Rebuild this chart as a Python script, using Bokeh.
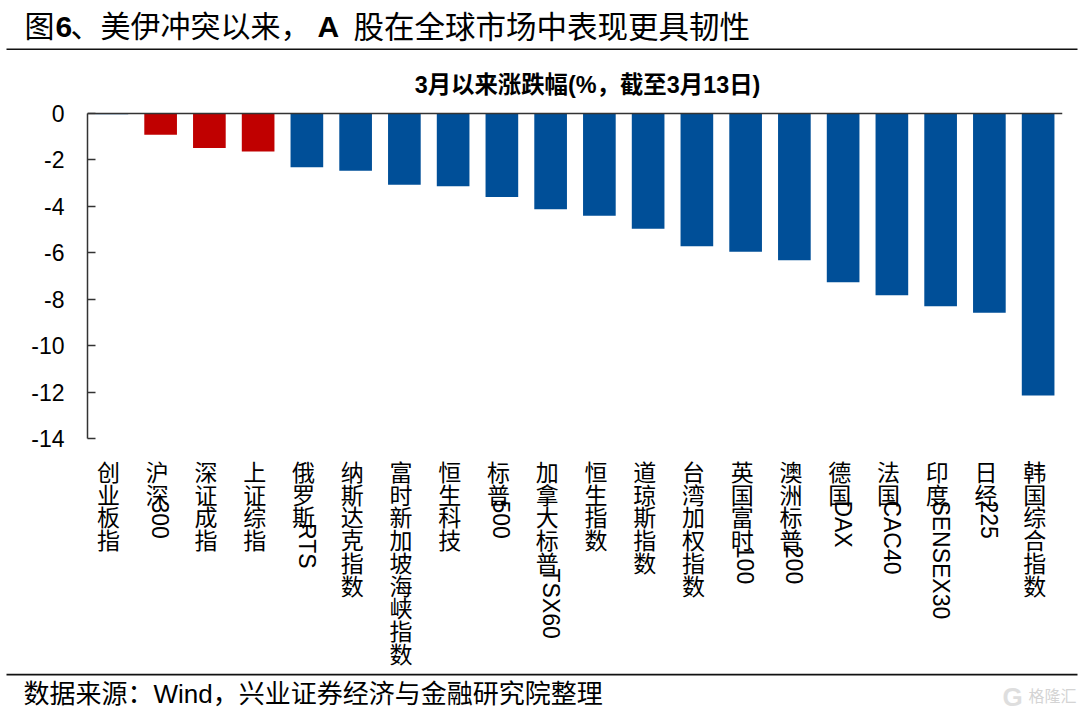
import math
from bokeh.plotting import figure
from bokeh.layouts import column
from bokeh.embed import file_html
from bokeh.resources import INLINE
from bokeh.core.properties import value
from bokeh.models import FixedTicker, Range1d, ColumnDataSource, Span

categories = ["创业板指", "沪深300", "深证成指", "上证综指", "俄罗斯RTS", "纳斯达克指数", "富时新加坡海峡指数",
              "恒生科技", "标普500", "加拿大标普TSX60", "恒生指数", "道琼斯指数", "台湾加权指数", "英国富时100",
              "澳洲标普200", "德国DAX", "法国CAC40", "印度SENSEX30", "日经225", "韩国综合指数"]
values = [-0.03, -0.91, -1.49, -1.64, -2.32, -2.47, -3.07, -3.13, -3.6, -4.12, -4.4, -4.96, -5.72, -5.95, -6.32,
          -7.27, -7.83, -8.3, -8.58, -12.15]
colors = ["#004F98"] + ["#C00000"] * 3 + ["#004F98"] * 16
y_ticks = [0, -2, -4, -6, -8, -10, -12, -14]
y_tick_labels = ["0", "-2", "-4", "-6", "-8", "-10", "-12", "-14"]

FONT = "Liberation Sans, Noto Sans CJK SC"
W = 1080
TITLE_H, CHART_H, FOOT_H = 50, 623, 42
FRAME_L, FRAME_R = 87, 1062
ZERO_Y = 113 - TITLE_H
PX_PER_UNIT = 325 / 14


def band(height):
    f = figure(width=W, height=height, output_backend="svg", toolbar_location=None,
               x_range=Range1d(0, W), y_range=Range1d(height, 0), x_axis_type=None, y_axis_type=None,
               min_border=0, min_border_left=0, min_border_right=0, min_border_top=0, min_border_bottom=0)
    f.outline_line_color = None
    f.grid.visible = False
    return f


def put(f, x, y, text, size, bold=False, color="#000000", align="left"):
    f.text([x], [y], text=[text], text_font=value(FONT), text_font_size=f"{size}px",
           text_font_style="bold" if bold else "normal", text_color=color, text_align=align,
           text_baseline="middle")


# title band
top = band(TITLE_H)
put(top, 24, 26, "图", 30)
put(top, 55, 26, "6", 30, bold=True)
put(top, 70, 26, "、美伊冲突以来，", 30)
put(top, 317, 26, "A", 30, bold=True)
put(top, 353, 26, "股在全球市场中表现更具韧性", 30.5)
top.quad(left=[6], right=[1077], top=[48], bottom=[50], fill_color="#111111", line_color=None)

# chart band
p = figure(width=W, height=CHART_H, output_backend="svg", toolbar_location=None,
           x_range=Range1d(-0.5, len(categories) - 0.5),
           y_range=Range1d(-(CHART_H - ZERO_Y) / PX_PER_UNIT, ZERO_Y / PX_PER_UNIT),
           x_axis_type=None, min_border=0, min_border_left=FRAME_L, min_border_right=W - FRAME_R,
           min_border_top=0, min_border_bottom=0)
p.outline_line_color = None
p.grid.visible = False
p.yaxis.bounds = (-14, 0)
p.yaxis.ticker = FixedTicker(ticks=y_ticks)
p.yaxis.major_label_overrides = dict(zip(y_ticks, y_tick_labels))
p.yaxis.major_tick_in = 8
p.yaxis.major_tick_out = 0
p.yaxis.minor_tick_line_color = None
p.yaxis.axis_line_color = "#333333"
p.yaxis.major_tick_line_color = "#333333"
p.yaxis.axis_line_width = 1.5
p.yaxis.major_tick_line_width = 1.5
p.yaxis.major_label_text_font = FONT
p.yaxis.major_label_text_font_size = "23px"
p.yaxis.major_label_text_color = "#000000"
p.yaxis.major_label_standoff = 23

src = ColumnDataSource(dict(x=list(range(len(categories))), top=[0] * len(values), bottom=values, c=colors))
p.vbar(x="x", width=0.67, top="top", bottom="bottom", fill_color="c", line_color=None, source=src)
p.add_layout(Span(location=0, dimension="width", line_color="#333333", line_width=1.5))

p.text([9.5], [0], text=["3月以来涨跌幅(%，截至3月13日)"], text_font=value(FONT), text_font_size="23.4px",
       text_font_style="bold", text_align="center", text_baseline="middle", x_offset=[12.5], y_offset=[-29],
       text_color="#000000")

# vertical stacked category labels: CJK upright, Latin rotated clockwise
PITCH = 22.7
LABEL_TOP = 34.5  # px below the -14 tick, first character centre
cx, cy, ct, lx, ly, lt = [], [], [], [], [], []
for i, name in enumerate(categories):
    cjk = [c for c in name if ord(c) > 255]
    lat = "".join(c for c in name if ord(c) <= 255)
    for j, c in enumerate(cjk):
        cx.append(i); cy.append(LABEL_TOP + PITCH * j); ct.append(c)
    if lat:
        lx.append(i); ly.append(LABEL_TOP - 11 + PITCH * len(cjk) - 7); lt.append(lat)
p.text(cx, [-14] * len(cx), text=ct, text_font=value(FONT), text_font_size="23px", text_align="center",
       text_baseline="middle", x_offset=[-3.5] * len(cx), y_offset=cy, text_color="#000000")
p.text(lx, [-14] * len(lx), text=lt, text_font=value(FONT), text_font_size="23px", text_align="left",
       text_baseline="middle", angle=-math.pi / 2, y_offset=ly, text_color="#000000")

# footer band
foot = band(FOOT_H)
foot.quad(left=[6], right=[1077], top=[0], bottom=[2], fill_color="#111111", line_color=None)
put(foot, 23, 20, "数据来源：Wind，兴业证券经济与金融研究院整理", 26)
put(foot, 1002, 23, "G", 26, bold=True, color="#DEDEDE")
put(foot, 1028, 23, "格隆汇", 16, color="#D4D4D4")

page = column(column(top), column(p), column(foot), spacing=0)
open("out.html", "w").write(file_html(page, INLINE))
